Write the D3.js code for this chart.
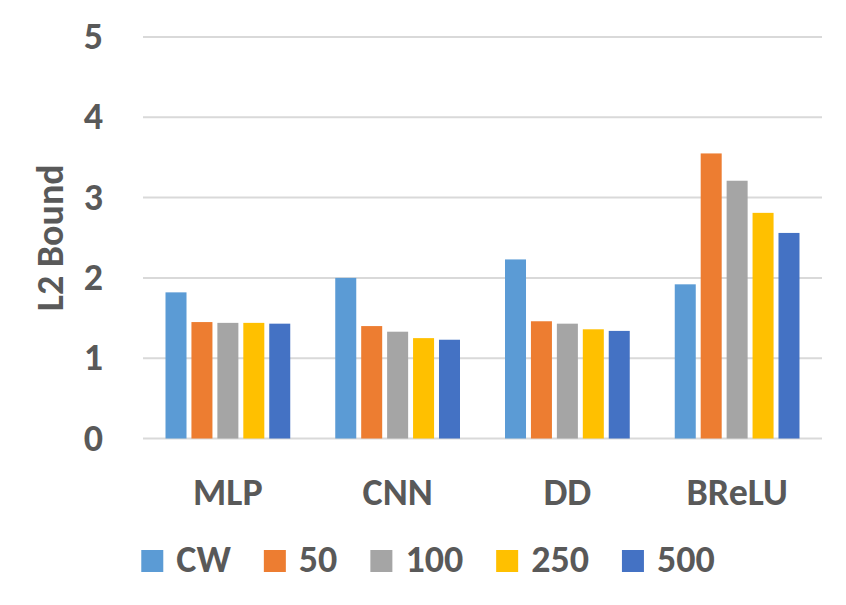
<!DOCTYPE html>
<html>
<head>
<meta charset="utf-8">
<script src="https://cdn.jsdelivr.net/npm/d3@7"></script>
<style>
  body { margin: 0; background: #fff; }
  text { font-family: Carlito, "Open Sans", sans-serif; font-weight: bold; fill: #595959; }
</style>
</head>
<body>
<div id="chart"></div>
<script>
const categories = ["MLP", "CNN", "DD", "BReLU"];
const seriesNames = ["CW", "50", "100", "250", "500"];
const cwValues = [1.82, 2.00, 2.23, 1.92];
const v50 = [1.45, 1.40, 1.46, 3.55];
const v100 = [1.44, 1.33, 1.43, 3.21];
const v250 = [1.44, 1.25, 1.36, 2.81];
const v500 = [1.43, 1.23, 1.34, 2.56];
const yTicks = [0, 1, 2, 3, 4, 5];

const seriesValues = [cwValues, v50, v100, v250, v500];
const colors = ["#5B9BD5", "#ED7D31", "#A5A5A5", "#FFC000", "#4472C4"];

const width = 846;
const height = 605;
const margin = { top: 37, right: 24, bottom: 167, left: 143 };
const fontSize = "38px";

const svg = d3.select("#chart")
    .append("svg")
    .attr("width", width)
    .attr("height", height);

const x0 = d3.scaleBand()
    .domain(categories)
    .range([margin.left, width - margin.right])
    .paddingInner(0)
    .paddingOuter(0);

const groupPad = 22.5;
const x1 = d3.scaleBand()
    .domain(seriesNames)
    .range([groupPad, x0.bandwidth() - groupPad])
    .paddingInner(0.19)
    .paddingOuter(0);

const y = d3.scaleLinear()
    .domain([0, 5])
    .range([height - margin.bottom + 0.5, margin.top]);

// gridlines
svg.append("g")
    .selectAll("line")
    .data(yTicks)
    .enter()
    .append("line")
    .attr("x1", margin.left)
    .attr("x2", width - margin.right)
    .attr("y1", d => y(d))
    .attr("y2", d => y(d))
    .attr("stroke", "#d9d9d9")
    .attr("stroke-width", 2);

// y tick labels
svg.append("g")
    .selectAll("text")
    .data(yTicks)
    .enter()
    .append("text")
    .attr("x", 103)
    .attr("y", d => y(d) + 12)
    .attr("text-anchor", "end")
    .attr("font-size", fontSize)
    .text(d => d);

// axis title
svg.append("text")
    .attr("transform", "translate(63," + ((y(0) + y(5)) / 2) + ") rotate(-90)")
    .attr("text-anchor", "middle")
    .attr("font-size", fontSize)
    .text("L2 Bound");

// bars
const groups = svg.append("g")
    .selectAll("g")
    .data(categories)
    .enter()
    .append("g")
    .attr("transform", d => "translate(" + x0(d) + ",0)");

groups.selectAll("rect")
    .data((d, i) => seriesNames.map((s, j) => ({ key: s, value: seriesValues[j][i], color: colors[j] })))
    .enter()
    .append("rect")
    .attr("x", d => x1(d.key))
    .attr("y", d => y(d.value))
    .attr("width", x1.bandwidth())
    .attr("height", d => y(0) - y(d.value))
    .attr("fill", d => d.color);

// category labels
svg.append("g")
    .selectAll("text")
    .data(categories)
    .enter()
    .append("text")
    .attr("x", d => x0(d) + x0.bandwidth() / 2)
    .attr("y", 505)
    .attr("text-anchor", "middle")
    .attr("font-size", fontSize)
    .text(d => d);

// legend
const legend = svg.append("g");
const items = legend.selectAll("g")
    .data(seriesNames)
    .enter()
    .append("g");

items.append("rect")
    .attr("width", 22)
    .attr("height", 22)
    .attr("y", 550)
    .attr("fill", (d, i) => colors[i]);

items.append("text")
    .attr("x", 35)
    .attr("y", 572)
    .attr("font-size", fontSize)
    .text(d => d);

const gap = 33;
let offset = 0;
const offsets = [];
items.each(function () {
    offsets.push(offset);
    const w = this.querySelector("text").getComputedTextLength();
    offset += 35 + w + gap;
});
const total = offset - gap;
const startX = 428 - total / 2;
items.attr("transform", (d, i) => "translate(" + (startX + offsets[i]) + ",0)");
</script>
</body>
</html>
